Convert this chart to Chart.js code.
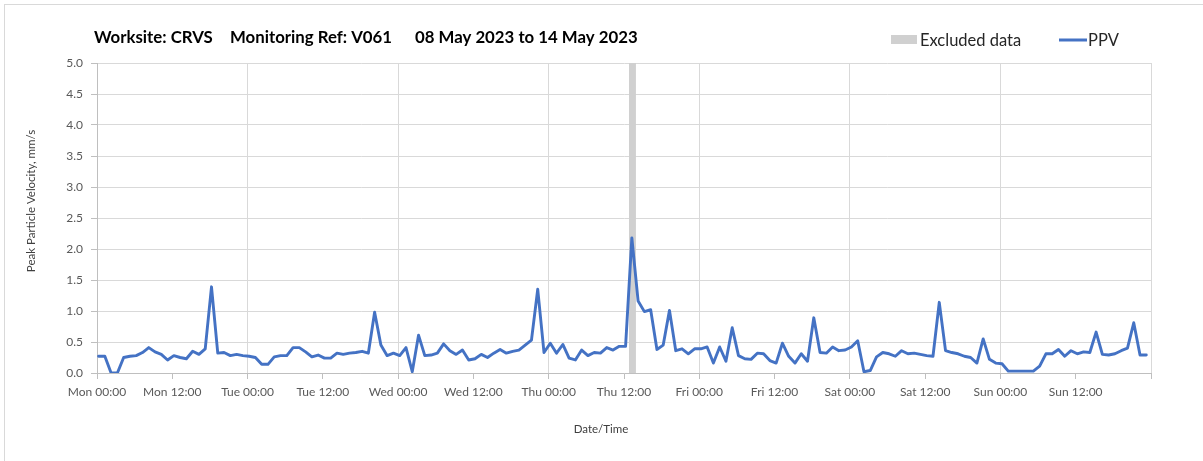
<!DOCTYPE html>
<html>
<head>
<meta charset="utf-8">
<title>PPV - Worksite CRVS - V061</title>
<script src="https://cdn.jsdelivr.net/npm/chart.js@4.4.0/dist/chart.umd.min.js"></script>
<style>
  html, body { margin: 0; padding: 0; background: #fff; }
  #wrap { position: relative; width: 1203px; height: 461px; overflow: hidden; }
</style>
</head>
<body>
<div id="wrap"><canvas id="ppvChart" width="1203" height="461"></canvas></div>
<script>
// hourly PPV readings (mm/s), one array per day, 08 May 2023 (Mon) to 14 May 2023 (Sun)
var ppvMon = [0.27, 0.27, 0.00, 0.00, 0.25, 0.27, 0.28, 0.33, 0.41, 0.34, 0.30, 0.21, 0.28, 0.25, 0.23, 0.35, 0.30, 0.39, 1.39, 0.32, 0.33, 0.28, 0.30, 0.28];
var ppvTue = [0.27, 0.25, 0.14, 0.14, 0.26, 0.28, 0.28, 0.41, 0.41, 0.34, 0.26, 0.29, 0.24, 0.24, 0.32, 0.30, 0.32, 0.33, 0.35, 0.32, 0.98, 0.45, 0.28, 0.32];
var ppvWed = [0.28, 0.41, 0.02, 0.61, 0.28, 0.29, 0.32, 0.47, 0.36, 0.30, 0.37, 0.21, 0.23, 0.30, 0.25, 0.32, 0.38, 0.32, 0.35, 0.37, 0.45, 0.53, 1.35, 0.33];
var ppvThu = [0.48, 0.32, 0.46, 0.24, 0.21, 0.37, 0.28, 0.33, 0.32, 0.41, 0.37, 0.43, 0.43, 2.18, 1.16, 0.99, 1.02, 0.38, 0.45, 1.01, 0.36, 0.39, 0.31, 0.39];
var ppvFri = [0.39, 0.42, 0.16, 0.42, 0.19, 0.73, 0.28, 0.23, 0.22, 0.32, 0.31, 0.20, 0.16, 0.48, 0.27, 0.16, 0.31, 0.19, 0.89, 0.33, 0.32, 0.42, 0.36, 0.37];
var ppvSat = [0.42, 0.52, 0.02, 0.04, 0.26, 0.33, 0.31, 0.27, 0.36, 0.31, 0.32, 0.30, 0.28, 0.27, 1.14, 0.36, 0.33, 0.31, 0.27, 0.25, 0.16, 0.55, 0.22, 0.16];
var ppvSun = [0.15, 0.03, 0.03, 0.03, 0.03, 0.03, 0.11, 0.31, 0.31, 0.38, 0.27, 0.36, 0.31, 0.34, 0.33, 0.66, 0.30, 0.29, 0.31, 0.36, 0.40, 0.81, 0.29, 0.29];

// first reading time, hours after Mon 00:00
var firstReadingHour = 0.25;

// excluded period, hours after Mon 00:00 (Thu ~12:50 to ~13:55)
var excludedPeriod = [84.8, 85.9];

// x axis labels, every 12 hours
var timeLabels = ["Mon 00:00", "Mon 12:00", "Tue 00:00", "Tue 12:00", "Wed 00:00", "Wed 12:00",
  "Thu 00:00", "Thu 12:00", "Fri 00:00", "Fri 12:00", "Sat 00:00", "Sat 12:00",
  "Sun 00:00", "Sun 12:00", ""];

var titleParts = ["Worksite: CRVS", "Monitoring Ref: V061", "08 May 2023 to 14 May 2023"];
var yAxisTitle = "Peak Particle Velocity, mm/s";
var xAxisTitle = "Date/Time";

/////////////////////////////////////////////////////
// build points
/////////////////////////////////////////////////////
var ppvValues = [].concat(ppvMon, ppvTue, ppvWed, ppvThu, ppvFri, ppvSat, ppvSun);
var ppvPoints = ppvValues.map(function(v, i) {
  return { x: firstReadingHour + i, y: v };
});

var textFont = "Lato, 'Open Sans', sans-serif";

/////////////////////////////////////////////////////
// title, legend, axis titles and outer frame
/////////////////////////////////////////////////////
var decorPlugin = {
  id: "decor",
  beforeDraw: function(chart) {
    var ctx = chart.ctx;
    ctx.save();
    ctx.fillStyle = "#ffffff";
    ctx.fillRect(0, 0, chart.width, chart.height);
    ctx.strokeStyle = "#d9d9d9";
    ctx.lineWidth = 1;
    ctx.strokeRect(4.5, 4.5, chart.width + 50, chart.height + 50);
    ctx.restore();
  },
  afterDraw: function(chart) {
    var ctx = chart.ctx;
    var area = chart.chartArea;
    var ds = chart.data.datasets;
    ctx.save();

    // chart title
    ctx.fillStyle = "#000000";
    ctx.font = "bold 16.8px " + textFont;
    ctx.textBaseline = "alphabetic";
    ctx.textAlign = "left";
    var titleX = [area.left - 3, area.left + 133, area.left + 318];
    titleParts.forEach(function(part, i) {
      ctx.fillText(part, titleX[i], 43);
    });

    // legend
    ctx.font = "16.5px " + textFont;
    ctx.fillStyle = ds[1].backgroundColor;
    ctx.fillRect(891, 35, 26, 9);
    ctx.fillStyle = "#262626";
    ctx.fillText(ds[1].label, 920, 45.5);
    ctx.strokeStyle = ds[0].borderColor;
    ctx.lineWidth = 3;
    ctx.beginPath();
    ctx.moveTo(1059, 40);
    ctx.lineTo(1087, 40);
    ctx.stroke();
    ctx.fillText(ds[0].label, 1088, 45.5);

    // axis titles
    ctx.fillStyle = "#404040";
    ctx.font = "11.5px " + textFont;
    ctx.textAlign = "center";
    ctx.textBaseline = "middle";
    ctx.fillText(xAxisTitle, 601, 429);
    ctx.translate(31, 201);
    ctx.rotate(-Math.PI / 2);
    ctx.fillText(yAxisTitle, 0, 0);

    ctx.restore();
  }
};

var ctx = document.getElementById("ppvChart").getContext("2d");

var ppvChart = new Chart(ctx, {
  type: "line",
  data: {
    datasets: [
      {
        label: "PPV",
        data: ppvPoints,
        borderColor: "#4472c4",
        backgroundColor: "#4472c4",
        borderWidth: 2.9,
        borderJoinStyle: "round",
        borderCapStyle: "round",
        pointRadius: 0,
        tension: 0,
        order: 0
      },
      {
        label: "Excluded data",
        data: [{ x: excludedPeriod[0], y: 5 }, { x: excludedPeriod[1], y: 5 }],
        backgroundColor: "#d0d0d0",
        borderWidth: 0,
        pointRadius: 0,
        fill: "origin",
        order: 1
      }
    ]
  },
  options: {
    responsive: false,
    animation: false,
    layout: { padding: { top: 63, right: 52, left: 0, bottom: 0 } },
    plugins: {
      legend: { display: false },
      title: { display: false },
      tooltip: { enabled: false }
    },
    scales: {
      x: {
        type: "linear",
        min: 0,
        max: 168,
        afterFit: function(scale) { scale.height = 88; },
        border: { display: true, color: "#bfbfbf", width: 1 },
        grid: {
          color: function(c) { return c.tick && c.tick.value % 24 === 0 ? "#d9d9d9" : "rgba(0,0,0,0)"; },
          tickColor: "#bfbfbf",
          tickLength: 6,
          lineWidth: 1
        },
        ticks: {
          stepSize: 12,
          autoSkip: false,
          maxRotation: 0,
          padding: 6,
          color: "#595959",
          font: { family: textFont, size: 12 },
          callback: function(v) { return timeLabels[Math.round(v / 12)]; }
        }
      },
      y: {
        min: 0,
        max: 5,
        afterFit: function(scale) { scale.width = 97; },
        border: { display: true, color: "#bfbfbf", width: 1 },
        grid: {
          color: "#d9d9d9",
          tickColor: "#bfbfbf",
          tickLength: 6,
          lineWidth: 1
        },
        ticks: {
          stepSize: 0.5,
          padding: 8,
          color: "#595959",
          font: { family: textFont, size: 12 },
          callback: function(v) { return v.toFixed(1); }
        }
      }
    }
  },
  plugins: [decorPlugin]
});
</script>
</body>
</html>
